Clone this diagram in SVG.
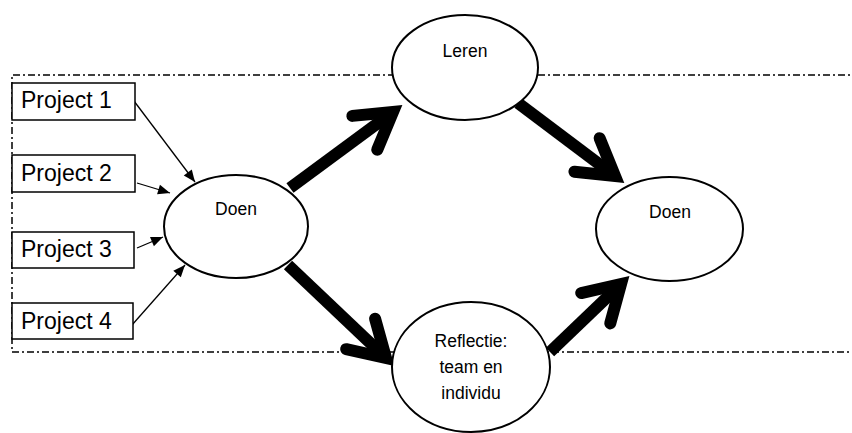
<svg xmlns="http://www.w3.org/2000/svg" width="852" height="433" viewBox="0 0 852 433">
<style>
.frame{fill:none;stroke:#000;stroke-width:1.5;stroke-dasharray:7 3 2 3}
.box{fill:#fff;stroke:#000;stroke-width:1.5}
.ell{fill:#fff;stroke:#000;stroke-width:2}
.ptxt{font-family:"Liberation Sans",Arial,sans-serif;font-size:23px;fill:#000}
.ntxt{font-family:"Liberation Sans",Arial,sans-serif;font-size:17.5px;fill:#000;text-anchor:middle}
.thin{stroke:#000;stroke-width:1.3;fill:none;marker-end:url(#tri)}
.thick{stroke:#000;stroke-width:12;fill:none;stroke-linecap:butt;marker-end:url(#chev)}
</style>
<defs>
<marker id="tri" markerUnits="userSpaceOnUse" orient="auto" overflow="visible" refX="0" refY="0" markerWidth="1" markerHeight="1">
<path d="M0,0 L-12,-5 L-12,5 Z" fill="#000"/>
</marker>
<marker id="chev" markerUnits="userSpaceOnUse" orient="auto" overflow="visible" refX="0" refY="0" markerWidth="1" markerHeight="1">
<path d="M-35,-21 L0,0 L-35,21" fill="none" stroke="#000" stroke-width="12" stroke-linecap="round" stroke-linejoin="miter"/>
</marker>
</defs>
<rect width="852" height="433" fill="#fff"/>
<path class="frame" d="M860,75 H12 V352 H860"/>
<g id="connectors">
<line class="thin" x1="134" y1="101" x2="195" y2="182"/>
<line class="thin" x1="137" y1="183" x2="170" y2="193"/>
<line class="thin" x1="137" y1="248" x2="163" y2="237"/>
<line class="thin" x1="132" y1="325" x2="185" y2="265"/>
<line class="thick" x1="290" y1="188" x2="393" y2="112"/>
<line class="thick" x1="518" y1="103" x2="615" y2="176"/>
<line class="thick" x1="288" y1="265" x2="386" y2="358"/>
<line class="thick" x1="550" y1="352" x2="621" y2="284"/>
</g>
<g id="project1"><rect class="box" x="12" y="83" width="123" height="37"/><text class="ptxt" x="21" y="108">Project 1</text></g>
<g id="project2"><rect class="box" x="12" y="155" width="123" height="37"/><text class="ptxt" x="21" y="181">Project 2</text></g>
<g id="project3"><rect class="box" x="12" y="232" width="122" height="36"/><text class="ptxt" x="21" y="257">Project 3</text></g>
<g id="project4"><rect class="box" x="12" y="303" width="121" height="36"/><text class="ptxt" x="21" y="329">Project 4</text></g>
<g id="doen1"><ellipse class="ell" cx="236" cy="226.5" rx="72" ry="51.5"/><text class="ntxt" x="236" y="215">Doen</text></g>
<g id="leren"><ellipse class="ell" cx="465" cy="67.5" rx="73" ry="52.5"/><text class="ntxt" x="465" y="57">Leren</text></g>
<g id="doen2"><ellipse class="ell" cx="669.5" cy="229" rx="73.5" ry="52"/><text class="ntxt" x="670" y="218">Doen</text></g>
<g id="reflectie"><ellipse class="ell" cx="471" cy="367" rx="79" ry="65"/><text class="ntxt" x="471" y="347">Reflectie:</text><text class="ntxt" x="471" y="373">team en</text><text class="ntxt" x="471" y="399">individu</text></g>
</svg>
